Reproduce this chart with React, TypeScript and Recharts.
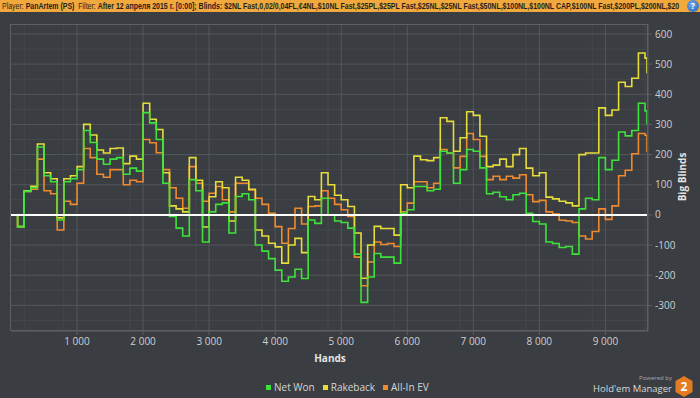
import { LineChart, Line, XAxis, YAxis, CartesianGrid, ReferenceLine } from "recharts";

// hands played (x), sampled every 100 hands
const hands = [
  0, 100, 200, 300, 400, 500, 600, 700, 800, 900,
  1000, 1100, 1200, 1300, 1400, 1500, 1600, 1700, 1800, 1900,
  2000, 2100, 2200, 2300, 2400, 2500, 2600, 2700, 2800, 2900,
  3000, 3100, 3200, 3300, 3400, 3500, 3600, 3700, 3800, 3900,
  4000, 4100, 4200, 4300, 4400, 4500, 4600, 4700, 4800, 4900,
  5000, 5100, 5200, 5300, 5400, 5500, 5600, 5700, 5800, 5900,
  6000, 6100, 6200, 6300, 6400, 6500, 6600, 6700, 6800, 6900,
  7000, 7100, 7200, 7300, 7400, 7500, 7600, 7700, 7800, 7900,
  8000, 8100, 8200, 8300, 8400, 8500, 8600, 8700, 8800, 8900,
  9000, 9100, 9200, 9300, 9400, 9500, 9600, 9630,
];

const netWon = [
  0, -39, 78, 90, 225, 130, 110, -17, 110, 120,
  150, 280, 240, 185, 168, 185, 190, 135, 155, 145,
  339, 305, 250, 105, -5, -44, -70, 117, 80, -90,
  10, 35, 40, -60, 61, 70, 50, -100, -120, -145,
  -183, -220, -206, -180, -211, -17, -28, 55, 0, -20,
  -25, -44, -130, -290, -206, -128, -140, -140, -160, 5,
  17, 94, 94, 80, 85, 211, 205, 105, 150, 217,
  211, 156, 70, 75, 60, 50, 67, 72, 5, -22,
  -30, -90, -95, -108, -105, -130, 20, 55, 50, 190,
  150, 181, 275, 262, 280, 370, 345, 300,
];

const rakeback = [
  0, -39, 80, 95, 235, 140, 120, -10, 120, 130,
  160, 300, 265, 215, 205, 220, 222, 170, 195, 185,
  370, 317, 283, 140, 30, 20, 10, 190, 115, -40,
  60, 110, 90, -20, 125, 115, 85, -50, -70, -94,
  -106, -160, -100, -78, -125, 61, 50, 140, 100, 65,
  50, 28, -60, -210, -100, -38, -45, -45, -67, 100,
  90, 195, 183, 180, 190, 322, 310, 211, 256, 342,
  330, 261, 160, 165, 185, 160, 200, 220, 155, 130,
  140, 59, 53, 45, 40, 30, 200, 205, 205, 355,
  330, 348, 440, 426, 453, 537, 520, 470,
];

const allInEv = [
  0, -39, 78, 85, 185, 80, 70, -50, 45, 35,
  105, 220, 190, 135, 125, 150, 150, 100, 115, 110,
  250, 239, 206, 150, 90, 55, 22, 160, 105, 45,
  72, 94, 50, 10, 105, 105, 83, 55, 35, 5,
  -39, -94, -45, 22, -30, 28, 30, 80, 55, 35,
  17, -5, -140, -235, -156, -90, -98, -95, -105, 10,
  39, 110, 110, 90, 105, 217, 205, 156, 194, 270,
  250, 194, 117, 128, 117, 128, 122, 133, 67, 44,
  48, 10, 3, -18, -20, -25, -70, -80, -55, 20,
  -15, 30, 130, 148, 203, 270, 264, 209,
];

const xTicks = [1000, 2000, 3000, 4000, 5000, 6000, 7000, 8000, 9000];
const yTicks = [-300, -200, -100, 0, 100, 200, 300, 400, 500, 600];
const xMinor = [200, 400, 600, 800, 1200, 1400, 1600, 1800, 2200, 2400, 2600, 2800, 3200, 3400, 3600, 3800, 4200, 4400, 4600, 4800, 5200, 5400, 5600, 5800, 6200, 6400, 6600, 6800, 7200, 7400, 7600, 7800, 8200, 8400, 8600, 8800, 9200, 9400, 9600];
const yMinor = [-350, -250, -150, -50, 50, 150, 250, 350, 450, 550];

const data = hands.map((h, i) => ({
  hands: h,
  netWon: netWon[i],
  rakeback: rakeback[i],
  allInEv: allInEv[i],
}));

const fmtHands = (v: number) =>
  v >= 1000 ? `${Math.floor(v / 1000)} ${String(v % 1000).padStart(3, "0")}` : String(v);

const GREEN = "#3ee23a";
const YELLOW = "#e6dc3a";
const ORANGE = "#f08a2e";
const BG = "#3a3d41";

export default function App() {
  return (
    <div
      style={{
        position: "absolute",
        left: 0,
        top: 0,
        width: 700,
        height: 398,
        background: BG,
        overflow: "hidden",
        fontFamily: "'Open Sans', 'Noto Sans', sans-serif",
      }}
    >
      {/* filter header */}
      <div
        style={{
          position: "absolute",
          left: 0,
          top: 0,
          width: 700,
          height: 12,
          background: "#f1a83c",
        }}
      >
        <div
          style={{
            position: "absolute",
            left: 2,
            top: 0,
            whiteSpace: "nowrap",
            fontFamily: "'Liberation Sans', Arial, sans-serif",
            fontSize: 8.5,
            lineHeight: "12px",
            color: "#1f1f1f",
            transform: "scaleX(0.82)",
            transformOrigin: "left center",
          }}
        >
          <span>Player: </span>
          <b>PanArtem (PS)</b>
          <span>&nbsp; Filter: </span>
          <b>
            After 12 апреля 2015 г. [0:00]; Blinds: $2NL Fast,0,02/0,04FL,€4NL,$10NL Fast,$25PL,$25PL Fast,$25NL,$25NL Fast,$50NL,$100NL,$100NL CAP,$100NL Fast,$200PL,$200NL,$20
          </b>
        </div>
        <div
          style={{
            position: "absolute",
            left: 687,
            top: 0,
            width: 12,
            height: 12,
            borderRadius: 6,
            background: "radial-gradient(circle at 40% 35%, #6fa8ee, #1f5fb8)",
            color: "#fff",
            fontSize: 9,
            fontWeight: 700,
            lineHeight: "12px",
            textAlign: "center",
          }}
        >
          ?
        </div>
      </div>

      <div style={{ position: "absolute", left: 0, top: 0 }}>
        <LineChart width={700} height={398} data={data} margin={{ top: 24, right: 12, bottom: 37, left: 11 }}>
          <CartesianGrid horizontalValues={yMinor} verticalValues={xMinor} stroke="#45484c" strokeWidth={1} />
          <CartesianGrid horizontalValues={yTicks} verticalValues={xTicks} stroke="#53575b" strokeWidth={1} />
          <XAxis
            dataKey="hands"
            type="number"
            domain={[0, 9645]}
            ticks={xTicks}
            tickFormatter={fmtHands}
            allowDataOverflow
            axisLine={{ stroke: "#5c6064" }}
            tickLine={{ stroke: "#5c6064" }}
            tickSize={4}
            tickMargin={3}
            height={30}
            tick={{ fill: "#cfd0d2", fontSize: 10 }}
          />
          <YAxis
            orientation="right"
            type="number"
            domain={[-385, 633]}
            ticks={yTicks}
            allowDataOverflow
            axisLine={{ stroke: "#5c6064" }}
            tickLine={{ stroke: "#5c6064" }}
            tickSize={4}
            tickMargin={3}
            width={40}
            tick={{ fill: "#cfd0d2", fontSize: 10 }}
          />
          <Line type="stepAfter" dataKey="allInEv" stroke={ORANGE} strokeWidth={1.6} dot={false} isAnimationActive={false} />
          <Line type="stepAfter" dataKey="rakeback" stroke={YELLOW} strokeWidth={1.6} dot={false} isAnimationActive={false} />
          <Line type="stepAfter" dataKey="netWon" stroke={GREEN} strokeWidth={1.6} dot={false} isAnimationActive={false} />
          <ReferenceLine y={0} stroke="#ffffff" strokeWidth={2} />
        </LineChart>
      </div>

      {/* plot frame */}
      <div
        style={{
          position: "absolute",
          left: 10,
          top: 24,
          width: 638,
          height: 307,
          border: "1px solid #5c6064",
          boxSizing: "border-box",
          pointerEvents: "none",
        }}
      />

      <div
        style={{
          position: "absolute",
          left: 300,
          top: 351,
          width: 60,
          textAlign: "center",
          color: "#e4e4e4",
          fontSize: 10,
          fontWeight: 700,
        }}
      >
        Hands
      </div>

      <div
        style={{
          position: "absolute",
          left: 652,
          top: 170,
          width: 60,
          textAlign: "center",
          color: "#e4e4e4",
          fontSize: 10,
          fontWeight: 700,
          transform: "rotate(-90deg)",
        }}
      >
        Big Blinds
      </div>

      {/* legend */}
      <div
        style={{
          position: "absolute",
          left: 266,
          top: 380,
          display: "flex",
          alignItems: "center",
          color: "#d6d6d6",
          fontSize: 10,
          lineHeight: "14px",
          whiteSpace: "nowrap",
        }}
      >
        {[
          { c: GREEN, t: "Net Won" },
          { c: YELLOW, t: "Rakeback" },
          { c: ORANGE, t: "All-In EV" },
        ].map((it) => (
          <span key={it.t} style={{ display: "flex", alignItems: "center", marginRight: 8 }}>
            <span style={{ width: 5, height: 5, background: it.c, marginRight: 3, display: "inline-block" }} />
            {it.t}
          </span>
        ))}
      </div>

      {/* branding */}
      <div style={{ position: "absolute", right: 28, top: 374, color: "#a9abad", fontSize: 6, textAlign: "right" }}>
        Powered by
      </div>
      <div style={{ position: "absolute", right: 28, top: 382, color: "#d8d8d8", fontSize: 9.5, textAlign: "right", whiteSpace: "nowrap" }}>
        Hold'em Manager
      </div>
      <svg style={{ position: "absolute", left: 675, top: 376 }} width={18} height={21}>
        <polygon points="9,0 17.5,5 17.5,16 9,21 0.5,16 0.5,5" fill="#e37b22" />
        <text x={9} y={15} textAnchor="middle" fill="#ffffff" fontSize={12} fontWeight={700} fontFamily="'Open Sans', sans-serif">
          2
        </text>
      </svg>
    </div>
  );
}
